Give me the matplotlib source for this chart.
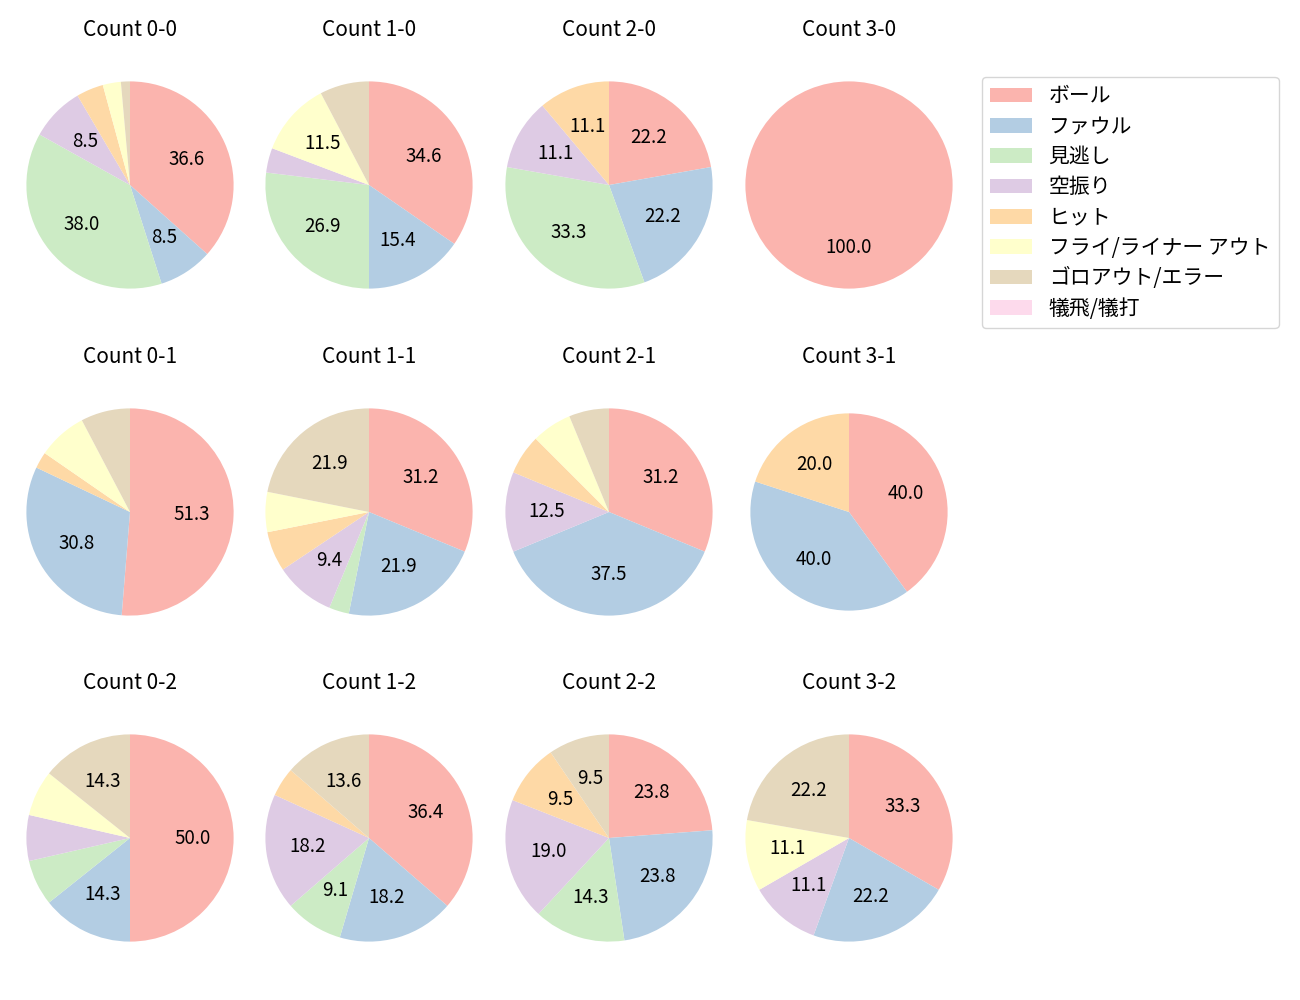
import matplotlib
matplotlib.use("Agg")
import matplotlib.pyplot as plt

plt.rcParams['font.family'] = ['Noto Sans CJK JP', 'DejaVu Sans']

categories = ["ボール", "ファウル", "見逃し", "空振り", "ヒット",
              "フライ/ライナー アウト", "ゴロアウト/エラー", "犠飛/犠打"]

counts = ["0-0", "1-0", "2-0", "3-0",
          "0-1", "1-1", "2-1", "3-1",
          "0-2", "1-2", "2-2", "3-2"]

c_0_0 = [26, 6, 27, 6, 3, 2, 1, 0]
c_1_0 = [9, 4, 7, 1, 0, 3, 2, 0]
c_2_0 = [2, 2, 3, 1, 1, 0, 0, 0]
c_3_0 = [1, 0, 0, 0, 0, 0, 0, 0]
c_0_1 = [20, 12, 0, 0, 1, 3, 3, 0]
c_1_1 = [10, 7, 1, 3, 2, 2, 7, 0]
c_2_1 = [5, 6, 0, 2, 1, 1, 1, 0]
c_3_1 = [2, 2, 0, 0, 1, 0, 0, 0]
c_0_2 = [7, 2, 1, 1, 0, 1, 2, 0]
c_1_2 = [8, 4, 2, 4, 1, 0, 3, 0]
c_2_2 = [5, 5, 3, 4, 2, 0, 2, 0]
c_3_2 = [3, 2, 0, 1, 0, 1, 2, 0]

data = [c_0_0, c_1_0, c_2_0, c_3_0,
        c_0_1, c_1_1, c_2_1, c_3_1,
        c_0_2, c_1_2, c_2_2, c_3_2]

colors = plt.get_cmap('Pastel1').colors[:8]

W, H = 1300, 1000
fig = plt.figure(figsize=(13, 10), dpi=100)

col_x = [130, 369, 609, 849]
row_y = [185, 512, 838]
side = 259

def fmt(p):
    return f"{p:.1f}" if p > 8 else ""

legend_handles = None
for i, (name, vals) in enumerate(zip(counts, data)):
    r, c = divmod(i, 4)
    s = side if name != "3-1" else side * 0.952
    cx, cy = col_x[c], row_y[r]
    ax = fig.add_axes([(cx - s / 2) / W, 1 - (cy + s / 2) / H, s / W, s / H])
    wedges, texts, autotexts = ax.pie(vals, colors=colors, startangle=90,
                                      counterclock=False, autopct=fmt,
                                      pctdistance=0.6,
                                      textprops={'fontsize': 13.5})
    ax.set_aspect('equal')
    pad = 14 if name != "3-1" else 14 + (side - s) / 2 * 72 / 100
    ax.set_title(f"Count {name}", fontsize=15, pad=pad)
    if legend_handles is None:
        legend_handles = wedges

fig.legend(legend_handles, categories, loc='upper left',
           bbox_to_anchor=(982 / W, 1 - 77 / H), fontsize=15,
           labelspacing=0.4, borderaxespad=0, frameon=True)

fig.savefig("out.png", dpi=100)
